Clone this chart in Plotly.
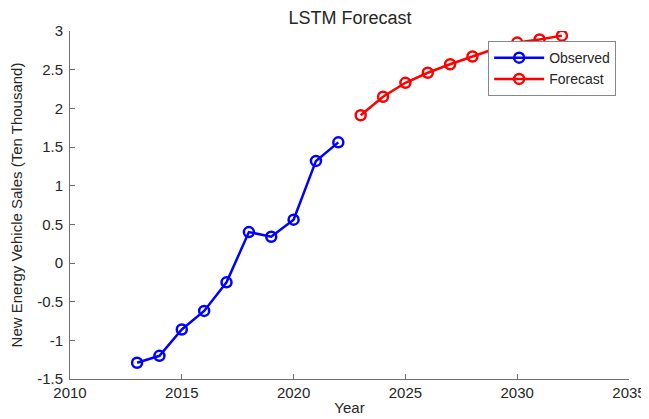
import plotly.graph_objects as go

obs_years = [2013, 2014, 2015, 2016, 2017, 2018, 2019, 2020, 2021, 2022]
obs_values = [-1.29, -1.20, -0.86, -0.62, -0.25, 0.40, 0.34, 0.56, 1.32, 1.56]
fc_years = [2023, 2024, 2025, 2026, 2027, 2028, 2029, 2030, 2031, 2032]
fc_values = [1.91, 2.15, 2.33, 2.46, 2.57, 2.67, 2.77, 2.85, 2.89, 2.94]

x_ticks = [2010, 2015, 2020, 2025, 2030, 2035]
y_ticks = [-1.5, -1, -0.5, 0, 0.5, 1, 1.5, 2, 2.5, 3]
y_ticklabels = ["-1.5", "-1", "-0.5", "0", "0.5", "1", "1.5", "2", "2.5", "3"]

FONT = "Liberation Sans, Arial, sans-serif"
TXT = "#262626"
AX = "#707070"

# page body has an 8px margin, so the figure is sized to fit the 649x419 window
W, H = 641, 411

fig = go.Figure()
fig.add_trace(go.Scatter(
    x=obs_years, y=obs_values, name="Observed", mode="lines+markers",
    line=dict(color="#0000ff", width=2.5),
    marker=dict(symbol="circle-open", size=10, color="#0000ff", line=dict(width=2.5)),
))
fig.add_trace(go.Scatter(
    x=fc_years, y=fc_values, name="Forecast", mode="lines+markers",
    line=dict(color="#ff0000", width=2.5),
    marker=dict(symbol="circle-open", size=10, color="#ff0000", line=dict(width=2.5)),
))

fig.update_layout(
    width=W, height=H,
    margin=dict(l=62, r=20, t=23, b=40, autoexpand=False),
    paper_bgcolor="white", plot_bgcolor="white",
    font=dict(family=FONT, size=15, color=TXT),
    title=dict(text="LSTM Forecast", x=342 / W, xanchor="center", xref="container",
               y=1 - 10 / H, yanchor="middle", yref="container",
               font=dict(family=FONT, size=18, color=TXT)),
    showlegend=True,
    legend=dict(x=0.977, xanchor="right", y=0.971, yanchor="top",
                bgcolor="white", bordercolor="#888888", borderwidth=1,
                font=dict(family=FONT, size=14, color=TXT),
                itemwidth=50, tracegroupgap=0),
    xaxis=dict(range=[2010, 2035], tickvals=x_ticks, ticktext=[str(v) for v in x_ticks],
               showgrid=False, zeroline=False, showline=True, linecolor=AX, linewidth=1,
               ticks="inside", ticklen=5, tickcolor=AX, automargin=False,
               ticklabeloverflow="allow",
               tickfont=dict(family=FONT, size=15, color=TXT),
               title=dict(text="Year", standoff=2, font=dict(family=FONT, size=15, color=TXT))),
    yaxis=dict(range=[-1.5, 3], tickvals=y_ticks, ticktext=y_ticklabels,
               showgrid=False, zeroline=False, showline=True, linecolor=AX, linewidth=1,
               ticks="inside", ticklen=5, tickcolor=AX, automargin=False,
               ticklabelstandoff=3,
               tickfont=dict(family=FONT, size=15, color=TXT),
               title=dict(text="New Energy Vehicle Sales (Ten Thousand)", standoff=12,
                          font=dict(family=FONT, size=15, color=TXT))),
)

fig.write_html("out.html")
